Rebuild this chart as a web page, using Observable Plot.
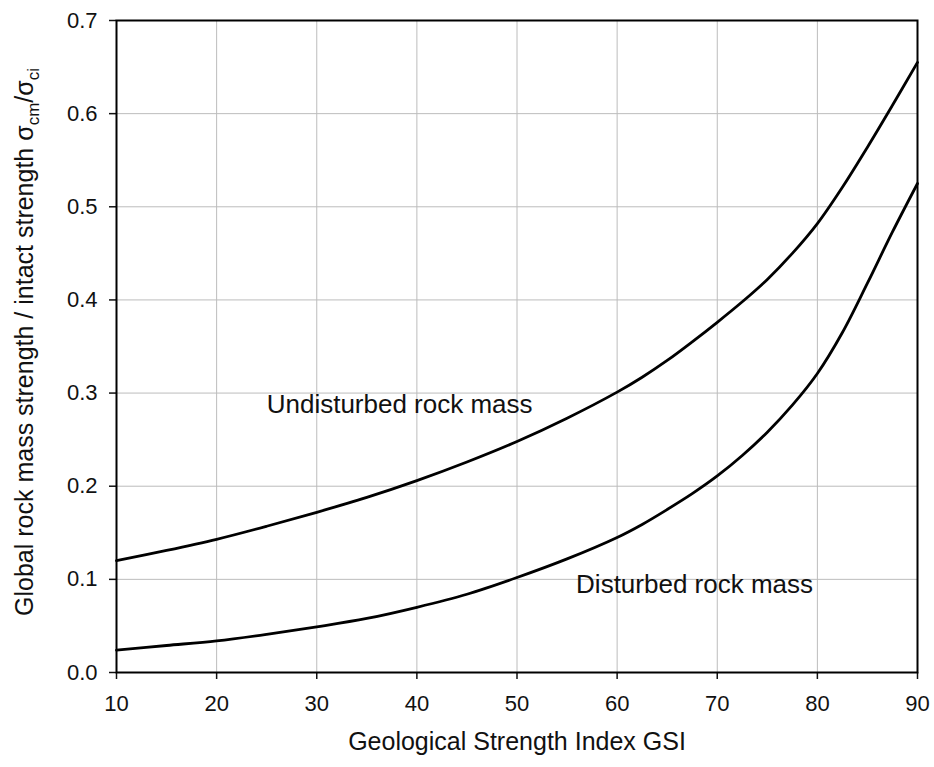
<!DOCTYPE html>
<html><head><meta charset="utf-8">
<script src="https://cdn.jsdelivr.net/npm/d3@7"></script>
<script src="https://cdn.jsdelivr.net/npm/@observablehq/plot@0.6"></script>
<style>body{margin:0;background:#fff} svg{display:block}</style>
</head><body><div id="chart"></div>
<script>
// GSI values along the x axis
const gsi = [10, 15, 20, 25, 30, 35, 40, 45, 50, 55, 60, 62.5, 65, 67.5, 70, 72.5, 75, 77.5, 80, 82.5, 85, 87.5, 90];
// sigma_cm / sigma_ci
const undisturbed = [0.120, 0.131, 0.143, 0.157, 0.172, 0.188, 0.206, 0.226, 0.248, 0.273, 0.301, 0.317, 0.335, 0.355, 0.376, 0.398, 0.422, 0.450, 0.482, 0.521, 0.564, 0.609, 0.655];
const disturbed   = [0.024, 0.029, 0.034, 0.041, 0.049, 0.058, 0.070, 0.084, 0.102, 0.122, 0.145, 0.159, 0.175, 0.192, 0.211, 0.233, 0.258, 0.287, 0.321, 0.365, 0.418, 0.473, 0.525];
const seriesNames = ["Undisturbed rock mass", "Disturbed rock mass"];
const labelGSI = [25.0, 55.9];
const labelValue = [0.279, 0.085];
const xTicks = [10, 20, 30, 40, 50, 60, 70, 80, 90];
const yTicks = [0.0, 0.1, 0.2, 0.3, 0.4, 0.5, 0.6, 0.7];
const xTitle = "Geological Strength Index GSI";
const yTitleMain = "Global rock mass strength / intact strength σ";

const rows = [];
gsi.forEach((g, i) => {
  rows.push({gsi: g, value: undisturbed[i], series: seriesNames[0]});
  rows.push({gsi: g, value: disturbed[i], series: seriesNames[1]});
});
const labels = seriesNames.map((s, i) => ({text: s, gsi: labelGSI[i], value: labelValue[i]}));

const font = "'Liberation Sans', Arial, Helvetica, sans-serif";

const chart = Plot.plot({
  width: 934,
  height: 767,
  marginTop: 20,
  marginRight: 17,
  marginBottom: 95,
  marginLeft: 116,
  style: {fontFamily: font, fontSize: "22px", color: "#111", background: "#fff"},
  x: {domain: [10, 90]},
  y: {domain: [0, 0.7]},
  marks: [
    Plot.gridX(xTicks, {stroke: "#bcbcbc", strokeOpacity: 1, strokeWidth: 1}),
    Plot.gridY(yTicks, {stroke: "#bcbcbc", strokeOpacity: 1, strokeWidth: 1}),
    Plot.axisX(xTicks, {tickSize: 7, tickPadding: 16, fontSize: 22, label: null, stroke: "#111", strokeWidth: 1.5, fill: "#111"}),
    Plot.axisY(yTicks, {tickSize: 7, tickPadding: 12, fontSize: 22, label: null, tickFormat: d => d.toFixed(1), stroke: "#111", strokeWidth: 1.5, fill: "#111"}),
    Plot.line(rows, {x: "gsi", y: "value", z: "series", stroke: "#000", strokeWidth: 2.8, curve: "catmull-rom"}),
    Plot.text(labels, {x: "gsi", y: "value", text: "text", textAnchor: "start", lineAnchor: "bottom", fontSize: 26, fill: "#111"}),
    Plot.text([xTitle], {frameAnchor: "bottom", dy: 77, lineAnchor: "bottom", fontSize: 25, fill: "#111"}),
    Plot.frame({stroke: "#000", strokeWidth: 2})
  ]
});
document.getElementById("chart").appendChild(chart);

const svg = d3.select(chart);
const t = svg.append("text")
  .attr("transform", "translate(33,342) rotate(-90)")
  .attr("text-anchor", "middle")
  .attr("font-family", font)
  .attr("font-size", 25)
  .attr("fill", "#111");
t.append("tspan").text(yTitleMain);
t.append("tspan").attr("font-size", 17).attr("dy", 6).text("cm");
t.append("tspan").attr("font-size", 25).attr("dy", -6).text("/σ");
t.append("tspan").attr("font-size", 17).attr("dy", 6).text("ci");
</script>
</body></html>
